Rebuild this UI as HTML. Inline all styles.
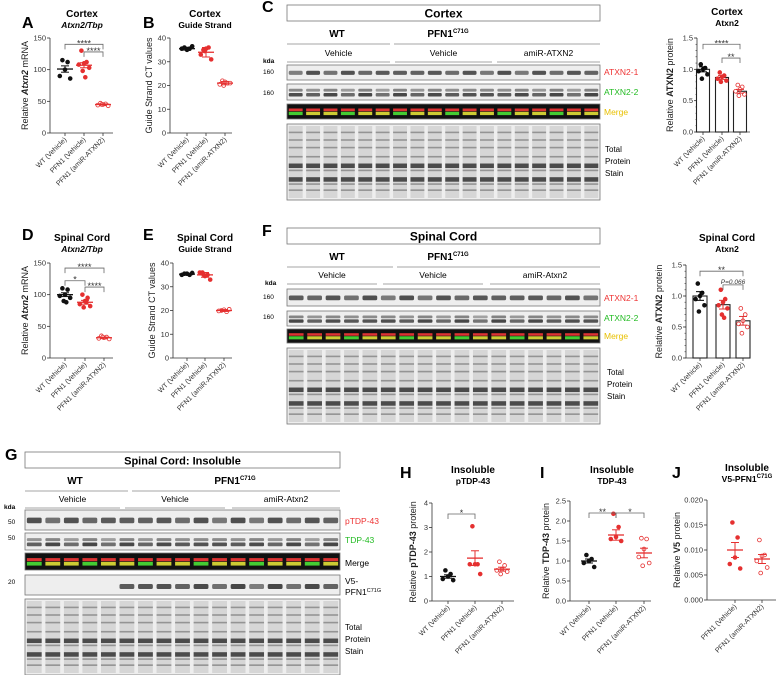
<!DOCTYPE html>
<html><head><meta charset="utf-8"><style>
body{margin:0;background:#fff;}
svg{display:block;font-family:"Liberation Sans",sans-serif;}
</style></head><body>
<svg id="fig" width="784" height="675" viewBox="0 0 784 675" xmlns="http://www.w3.org/2000/svg"></svg>
<script>
// ---- data arrays ----
const groupsA = ["WT (Vehicle)","PFN1 (Vehicle)","PFN1 (amiR-ATXN2)"];
const groupsJ = ["PFN1 (Vehicle)","PFN1 (amiR-ATXN2)"];
const aWT=[115,112,100,90,86], aPF=[130,112,110,108,103,98,88], aAM=[47,46,45,44,43,45];
const aMean=[101,107,45], aSem=[5,4,1];
const bWT=[36,35.5,35,35.5,36.5], bPF=[35,36,35.5,33,31,34.5], bAM=[22,21,21.5,20.5,21,20];
const bMean=[35.5,34,21], bSd=[0.6,2,0.7];
const cWT=[1.08,1.02,1.0,0.97,0.92,0.85], cPF=[0.95,0.9,0.88,0.85,0.82,0.8], cAM=[0.75,0.72,0.68,0.65,0.6,0.58];
const cMean=[1.0,0.87,0.65], cSem=[0.04,0.03,0.03];
const dWT=[110,108,100,98,95,90,88], dPF=[100,95,90,85,82,80,88], dAM=[35,33,32,31,30,33];
const dMean=[100,88,32], dSem=[3,3,1];
const eWT=[35.5,35,35.5,35,35.8], ePF=[36,35,34.5,36,33,35], eAM=[20,19.5,20.3,19.8,20.5];
const eMean=[35.3,35,20], eSd=[0.4,1,0.4];
const fWT=[1.2,1.05,1.0,0.95,0.85,0.75], fPF=[1.1,0.95,0.9,0.85,0.8,0.7,0.65], fAM=[0.8,0.7,0.6,0.55,0.5,0.4];
const fMean=[1.0,0.86,0.6], fSem=[0.07,0.07,0.07];
const hWT=[1.25,1.1,1.0,0.9,0.85], hPF=[3.05,1.5,1.5,1.5,1.1], hAM=[1.6,1.45,1.3,1.25,1.2,1.1];
const hMean=[1.0,1.75,1.3], hSem=[0.07,0.3,0.08];
const iWT=[1.15,1.05,1.0,0.95,0.85], iPF=[2.18,1.85,1.6,1.55,1.5], iAM=[1.57,1.55,1.3,1.1,0.95,0.88];
const iMean=[1.0,1.65,1.2], iSem=[0.05,0.13,0.12];
const jPF=[0.0155,0.0125,0.0085,0.0072,0.0063], jAM=[0.012,0.009,0.0088,0.0078,0.0065,0.0054];
const jMean=[0.0100,0.0082], jSem=[0.0015,0.0009];
const ticksA=[0,50,100,150], ticksB=[0,10,20,30,40], ticksC=[0,0.5,1.0,1.5], ticksH=[0,1,2,3,4], ticksI=[0,0.5,1.0,1.5,2.0,2.5], ticksJ=[0,0.005,0.010,0.015,0.020];

const S=document.getElementById('fig');const NS="http://www.w3.org/2000/svg";
function mk(tag,attrs,parent,txt){const e=document.createElementNS(NS,tag);for(const k in attrs)e.setAttribute(k,attrs[k]);if(txt!==undefined)e.textContent=txt;(parent||S).appendChild(e);return e;}
function txt(x,y,s,size,opts,name){const o=Object.assign({x:x,y:y,'font-size':size,fill:'#000'},opts||{});const t=mk('text',o,null,s);

return t;}

function plot(c){
  const g=mk('g',{});
  
  
  const y=v=>c.y0-(v-c.min)/(c.max-c.min)*(c.y0-c.y1);
  mk('line',{x1:c.ax,y1:c.y1,x2:c.ax,y2:c.y0,stroke:'#333','stroke-width':0.8},g);
  mk('line',{x1:c.ax,y1:c.y0,x2:c.axEnd,y2:c.y0,stroke:'#333','stroke-width':0.8},g);
  c.ticks.forEach(t=>{const yy=y(t);mk('line',{x1:c.ax-3,y1:yy,x2:c.ax,y2:yy,stroke:'#333','stroke-width':0.8},g);
    const tl=mk('text',{x:c.ax-4,y:yy+2.5,'font-size':7.5,'text-anchor':'end',fill:'#333'},g,c.fmt?c.fmt(t):t);
    });
  if(c.minor){for(let t=c.min;t<=c.max+1e-9;t+=c.minor){mk('line',{x1:c.ax-1.5,y1:y(t),x2:c.ax,y2:y(t),stroke:'#333','stroke-width':0.6},g);}}
  const yl=mk('text',{x:0,y:0,'font-size':9,'text-anchor':'middle',fill:'#222',transform:`translate(${c.ax-c.ylOff},${(c.y0+c.y1)/2}) rotate(-90)`},g);
  
  c.ylabel.forEach(p=>{mk('tspan',p[1]?{'font-weight':'bold','font-style':p[2]?'italic':'normal'}:{},yl,p[0]);});
  c.groups.forEach((gn,i)=>{const gx=c.gx[i];mk('line',{x1:gx,y1:c.y0,x2:gx,y2:c.y0+3,stroke:'#333','stroke-width':0.8},g);
    const tl=mk('text',{x:0,y:0,'font-size':7,'text-anchor':'end',fill:'#333',transform:`translate(${gx+2},${c.y0+7}) rotate(-45)`},g,gn);
    
    const col=c.colors[i];
    if(c.bars){const b=mk('rect',{x:gx-c.bw/2,y:y(c.mean[i]),width:c.bw,height:c.y0-y(c.mean[i]),fill:'#fff',stroke:'#222','stroke-width':1.1},g);
      }
    const offs=[-1,1,0,-2,2,-0.5,0.5];
    c.series[i].forEach((v,k)=>{const off=offs[k%7]*(c.bars?2.2:2.6);const p=mk('circle',{cx:gx+off,cy:y(v),r:1.9,fill:c.open[i]?'#fff':col,stroke:col,'stroke-width':0.8},g);
      });
    const m=y(c.mean[i]),lo=y(c.mean[i]-c.err[i]),hi=y(c.mean[i]+c.err[i]);
    const ec=c.bars?(i==0?'#000':'#e03030'):col;
    if(!c.bars)mk('line',{x1:gx-8,y1:m,x2:gx+8,y2:m,stroke:ec,'stroke-width':1.3},g);
    mk('line',{x1:gx,y1:lo,x2:gx,y2:hi,stroke:ec,'stroke-width':1},g);
    mk('line',{x1:gx-4,y1:lo,x2:gx+4,y2:lo,stroke:ec,'stroke-width':1},g);
    mk('line',{x1:gx-4,y1:hi,x2:gx+4,y2:hi,stroke:ec,'stroke-width':1},g);
  });
  (c.sig||[]).forEach(s=>{const a=c.gx[s[0]],b=c.gx[s[1]],yy=y(s[2]);
    mk('path',{d:`M${a},${yy+5}V${yy}H${b}V${yy+5}`,fill:'none',stroke:'#666','stroke-width':0.8},g);
    const t=mk('text',{x:(a+b)/2,y:yy-1+(s[4]?0:3),'font-size':s[4]?6.5:9,'text-anchor':'middle',fill:'#333','font-style':s[4]?'italic':'normal'},g,s[3]);
    });
}
const K='#111',R='#e53030';
plot({name:'panel-a-chart',ax:50,axEnd:113,y0:133,y1:38,min:0,max:150,ticks:ticksA,gx:[65,84,103],groups:groupsA,colors:[K,R,R],open:[0,0,1],
 series:[aWT,aPF,aAM],mean:aMean,err:aSem,ylOff:22,ylabel:[['Relative '],['Atxn2',1,1],[' mRNA']],sig:[[0,2,140,'****'],[1,2,128,'****']]});
plot({name:'panel-b-chart',ax:170,axEnd:232,y0:133,y1:38,min:0,max:40,ticks:ticksB,gx:[187,206,225],groups:groupsA,colors:[K,R,R],open:[0,0,1],
 series:[bWT,bPF,bAM],mean:bMean,err:bSd,ylOff:18,ylabel:[['Guide Strand CT values']]});
plot({name:'panel-c-bar-chart',ax:697,axEnd:750,y0:132,y1:38,min:0,max:1.5,ticks:ticksC,minor:0.1,fmt:t=>t.toFixed(1),gx:[703,722,740],groups:groupsA,colors:[K,R,R],open:[0,0,1],bars:1,bw:13,
 series:[cWT,cPF,cAM],mean:cMean,err:cSem,ylOff:24,ylabel:[['Relative '],['ATXN2',1],['  protein']],sig:[[0,2,1.4,'****'],[1,2,1.18,'**']]});
plot({name:'panel-d-chart',ax:50,axEnd:113,y0:358,y1:263,min:0,max:150,ticks:ticksA,gx:[65,85,104],groups:groupsA,colors:[K,R,R],open:[0,0,1],
 series:[dWT,dPF,dAM],mean:dMean,err:dSem,ylOff:22,ylabel:[['Relative '],['Atxn2',1,1],[' mRNA']],sig:[[0,2,142,'****'],[0,1,122,'*'],[1,2,112,'****']]});
plot({name:'panel-e-chart',ax:173,axEnd:232,y0:358,y1:263,min:0,max:40,ticks:ticksB,gx:[187,205,224],groups:groupsA,colors:[K,R,R],open:[0,0,1],
 series:[eWT,ePF,eAM],mean:eMean,err:eSd,ylOff:18,ylabel:[['Guide Strand CT values']]});
plot({name:'panel-f-bar-chart',ax:686,axEnd:750,y0:358,y1:265,min:0,max:1.5,ticks:ticksC,minor:0.1,fmt:t=>t.toFixed(1),gx:[700,723,743],groups:groupsA,colors:[K,R,R],open:[0,0,1],bars:1,bw:14,
 series:[fWT,fPF,fAM],mean:fMean,err:fSem,ylOff:24,ylabel:[['Relative '],['ATXN2',1],['  protein']],sig:[[0,2,1.4,'**'],[1,2,1.18,'P=0.066',1]]});
plot({name:'panel-h-chart',ax:432,axEnd:514,y0:601,y1:503,min:0,max:4,ticks:ticksH,gx:[448,475,502],groups:groupsA,colors:[K,R,R],open:[0,0,1],
 series:[hWT,hPF,hAM],mean:hMean,err:hSem,ylOff:16,ylabel:[['Relative '],['pTDP-43',1],[' protein']],sig:[[0,1,3.55,'*']]});
plot({name:'panel-i-chart',ax:570,axEnd:651,y0:601,y1:501,min:0,max:2.5,ticks:ticksI,fmt:t=>t.toFixed(1),gx:[589,616,644],groups:groupsA,colors:[K,R,R],open:[0,0,1],
 series:[iWT,iPF,iAM],mean:iMean,err:iSem,ylOff:21,ylabel:[['Relative '],['TDP-43',1],[' protein']],sig:[[0,1,2.2,'**'],[1,2,2.2,'*']]});
plot({name:'panel-j-chart',ax:707,axEnd:776,y0:600,y1:500,min:0,max:0.02,ticks:ticksJ,fmt:t=>t.toFixed(3),gx:[735,762],groups:groupsJ,colors:[R,R],open:[0,1],
 series:[jPF,jAM],mean:jMean,err:jSem,ylOff:27,ylabel:[['Relative '],['V5',1],[' protein']]});

[['A',22,28],['B',143,28],['C',262,12],['D',22,240],['E',143,240],['F',262,236],['G',5,460],['H',400,478],['I',540,478],['J',672,478]].forEach(l=>{
  txt(l[1],l[2],l[0],16,{'font-weight':'bold'},'panel-letter-'+l[0].toLowerCase());});
function title(x,y,a,b,bi){txt(x,y,a,10,{'font-weight':'bold','text-anchor':'middle'},'chart-title');
  return txt(x,y+11,b,8.5,{'font-weight':'bold','text-anchor':'middle','font-style':bi?'italic':'normal'},'chart-subtitle');}
title(82,17,'Cortex','Atxn2/Tbp',1);title(205,17,'Cortex','Guide Strand');
title(727,15,'Cortex','Atxn2');title(82,241,'Spinal Cord','Atxn2/Tbp',1);title(205,241,'Spinal Cord','Guide Strand');
title(727,241,'Spinal Cord','Atxn2');title(473,473,'Insoluble','pTDP-43');title(612,473,'Insoluble','TDP-43');
const jt=title(747,471,'Insoluble','V5-PFN1');mk('tspan',{'font-size':6,dy:-4},jt,'C71G');

function strip(x,y,w,h,lanes,kind,name,seed){
  const g=mk('g',{});
  
  
  mk('rect',{x:x,y:y,width:w,height:h,fill:kind=='merge'?'#111':'#eeeeee',stroke:'#777','stroke-width':0.8},g);
  const lw=w/lanes;
  for(let i=0;i<lanes;i++){const lx=x+i*lw+lw*0.1,bw=lw*0.8;const f=0.5+0.5*Math.abs(Math.sin(i*1.7+seed));
    if(kind=='band'){mk('rect',{x:lx,y:y+h*0.38,width:bw,height:h*0.28,rx:1.5,fill:'#333','fill-opacity':0.35+0.5*f},g);}
    else if(kind=='dbl'){mk('rect',{x:lx,y:y+h*0.3,width:bw,height:h*0.18,rx:1,fill:'#555','fill-opacity':0.3+0.4*f},g);mk('rect',{x:lx,y:y+h*0.56,width:bw,height:h*0.22,rx:1,fill:'#333','fill-opacity':0.4+0.5*f},g);}
    else if(kind=='merge'){mk('rect',{x:lx,y:y+h*0.3,width:bw,height:h*0.18,fill:'#d33'},g);mk('rect',{x:lx,y:y+h*0.52,width:bw,height:h*0.22,fill:i%3?'#cc3':'#4c3'},g);}
    else if(kind=='v5'){if(i>=5)mk('rect',{x:lx,y:y+h*0.45,width:bw,height:h*0.25,rx:1.5,fill:'#333','fill-opacity':0.3+0.6*f},g);}
    else {mk('rect',{x:lx,y:y+2,width:bw,height:h-4,fill:'#d6d6d6'},g);
      [0.1,0.2,0.3,0.42,0.52,0.6,0.7,0.78,0.86].forEach((p,k)=>mk('rect',{x:lx,y:y+h*p,width:bw,height:k==4||k==6?4.5:1.6,fill:'#333','fill-opacity':k==4||k==6?0.85:0.4},g));}
  }
}
function hdr(x0,x1,top,title,wtX,wtEnd,pfX,lanesLines,vehY,names,tsize){
  const b=mk('rect',{x:x0,y:top,width:x1-x0,height:16,fill:'#fff',stroke:'#777','stroke-width':0.8});
  
  txt((x0+x1)/2,top+12.5,title,tsize||12,{'font-weight':'bold','text-anchor':'middle'},'blot-title');
  txt(wtX,top+32,'WT',10,{'font-weight':'bold','text-anchor':'middle'},'wt-label');
  const p=txt(pfX,top+32,'PFN1',10,{'font-weight':'bold','text-anchor':'middle'},'pfn1-label');
  mk('tspan',{'font-size':6,dy:-4},p,'C71G');
  mk('line',{x1:x0,y1:top+39,x2:wtEnd,y2:top+39,stroke:'#888','stroke-width':0.8});
  mk('line',{x1:wtEnd+4,y1:top+39,x2:x1,y2:top+39,stroke:'#888','stroke-width':0.8});
  lanesLines.forEach((l,i)=>{mk('line',{x1:l[0],y1:vehY+6,x2:l[1],y2:vehY+6,stroke:'#888','stroke-width':0.8});
    txt((l[0]+l[1])/2,vehY,names[i],8.5,{'text-anchor':'middle'},'group-label');});
}
hdr(287,600,5,'Cortex',337,390,448,[[287,390],[395,492],[497,600]],56,['Vehicle','Vehicle','amiR-ATXN2']);
txt(263,63,'kda',6.5,{'font-weight':'bold'},'kda-label');txt(263,74,'160',6.5,{},'mw-label');txt(263,95,'160',6.5,{},'mw-label');
strip(287,65,313,15,18,'band','blot-atxn2-1-cortex',0);strip(287,84,313,16,18,'dbl','blot-atxn2-2-cortex',1);
strip(287,104,313,15,18,'merge','blot-merge-cortex',2);strip(287,124,313,76,18,'total','blot-total-cortex',3);
txt(604,75,'ATXN2-1',8.5,{fill:'#e33'},'atxn2-1-label');txt(604,95,'ATXN2-2',8.5,{fill:'#2b2'},'atxn2-2-label');
txt(604,115,'Merge',8.5,{fill:'#e8c000'},'merge-label');
txt(605,152,'Total',8,{},'total-label');txt(605,164,'Protein',8,{},'total-label');txt(605,176,'Stain',8,{},'total-label');
hdr(287,600,228,'Spinal Cord',337,393,448,[[287,377],[383,483],[490,600]],278,['Vehicle','Vehicle','amiR-Atxn2']);
txt(265,285,'kda',6.5,{'font-weight':'bold'},'kda-label');txt(263,299,'160',6.5,{},'mw-label');txt(263,319,'160',6.5,{},'mw-label');
strip(287,289,313,17,17,'band','blot-atxn2-1-spinal',4);strip(287,311,313,15,17,'dbl','blot-atxn2-2-spinal',5);
strip(287,329,313,14,17,'merge','blot-merge-spinal',6);strip(287,348,313,76,17,'total','blot-total-spinal',7);
txt(604,301,'ATXN2-1',8.5,{fill:'#e33'},'atxn2-1-label');txt(604,321,'ATXN2-2',8.5,{fill:'#2b2'},'atxn2-2-label');
txt(604,339,'Merge',8.5,{fill:'#e8c000'},'merge-label');
txt(607,375,'Total',8,{},'total-label');txt(607,387,'Protein',8,{},'total-label');txt(607,399,'Stain',8,{},'total-label');
hdr(25,340,452,'Spinal Cord: Insoluble',75,128,235,[[25,120],[125,225],[232,340]],502,['Vehicle','Vehicle','amiR-Atxn2'],11);
txt(4,509,'kda',6.5,{'font-weight':'bold'},'kda-label');txt(8,524,'50',6.5,{},'mw-label');txt(8,540,'50',6.5,{},'mw-label');txt(8,584,'20',6.5,{},'mw-label');
strip(25,510,315,20,17,'band','blot-ptdp43',8);strip(25,533,315,17,17,'dbl','blot-tdp43',9);
strip(25,553,315,17,17,'merge','blot-merge-insoluble',10);strip(25,575,315,20,17,'v5','blot-v5',11);strip(25,599,315,76,17,'total','blot-total-insoluble',12);
txt(345,524,'pTDP-43',8.5,{fill:'#e33'},'ptdp43-label');txt(345,543,'TDP-43',8.5,{fill:'#2b2'},'tdp43-label');
txt(345,566,'Merge',8.5,{},'merge-label');txt(345,584,'V5-',8.5,{},'v5-label');
const v=txt(345,595,'PFN1',8.5,{},'v5-label');mk('tspan',{'font-size':5.5,dy:-3},v,'C71G');
txt(345,630,'Total',8,{},'total-label');txt(345,642,'Protein',8,{},'total-label');txt(345,654,'Stain',8,{},'total-label');
</script>
</body></html>
